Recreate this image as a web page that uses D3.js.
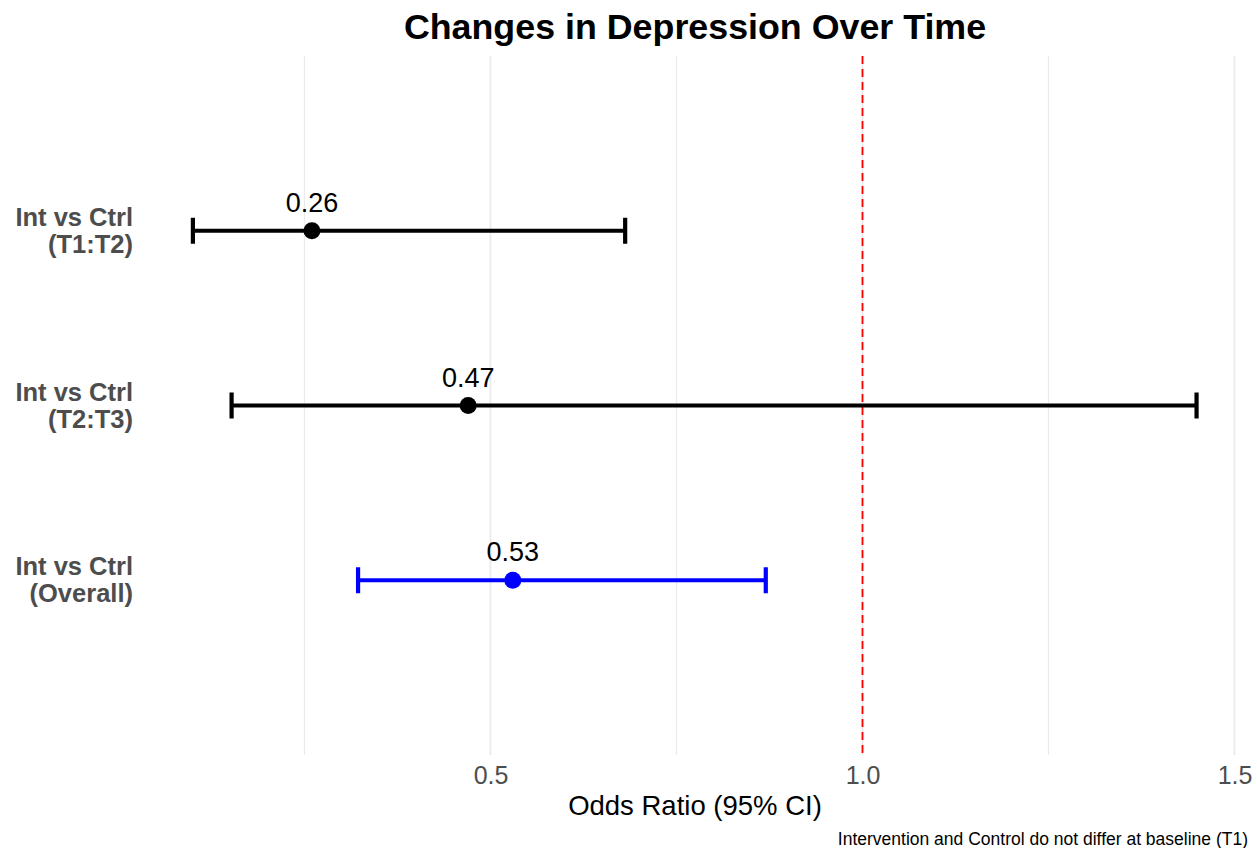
<!DOCTYPE html>
<html><head><meta charset="utf-8">
<script src="https://cdn.jsdelivr.net/npm/d3@7"></script>
<style>body{margin:0;background:#fff}svg{display:block}text{font-family:"Liberation Sans",Arial,sans-serif}</style>
</head><body>
<script>
const categories = ["Int vs Ctrl\n(T1:T2)", "Int vs Ctrl\n(T2:T3)", "Int vs Ctrl\n(Overall)"];
const estimates = [0.26, 0.47, 0.53];
const lowerCI = [0.10, 0.152, 0.322];
const upperCI = [0.681, 1.449, 0.870];
const colors = ["#000000", "#000000", "#0000ff"];
const majorTicks = [0.5, 1.0, 1.5];
const minorTicks = [0.25, 0.75, 1.25];
const refLine = 1.0;

const W = 1257, H = 848;
const svg = d3.select("body").append("svg").attr("width", W).attr("height", H);
const x = d3.scaleLinear().domain([0.5, 1.5]).range([490.5, 1234.5]);
const y = d3.scaleLinear().domain([0, 4]).range([56, 755]);

const g = svg.append("g");
g.selectAll(".minor").data(minorTicks).enter().append("line")
  .attr("x1", d => x(d)).attr("x2", d => x(d)).attr("y1", 56).attr("y2", 755)
  .attr("stroke", "#ebebeb").attr("stroke-width", 1.2);
g.selectAll(".major").data(majorTicks).enter().append("line")
  .attr("x1", d => x(d)).attr("x2", d => x(d)).attr("y1", 56).attr("y2", 755)
  .attr("stroke", "#ebebeb").attr("stroke-width", 1.8);

g.append("line").attr("x1", x(refLine)).attr("x2", x(refLine)).attr("y1", 56).attr("y2", 755)
  .attr("stroke", "#ff0000").attr("stroke-width", 1.8).attr("stroke-dasharray", "8,5");

const rows = categories.map((c, i) => ({c, est: estimates[i], lo: lowerCI[i], hi: upperCI[i], col: colors[i], i}));
const r = g.selectAll(".row").data(rows).enter().append("g");
r.append("line").attr("x1", d => x(d.lo)).attr("x2", d => x(d.hi))
  .attr("y1", d => y(d.i + 1)).attr("y2", d => y(d.i + 1))
  .attr("stroke", d => d.col).attr("stroke-width", 4.2);
r.append("line").attr("x1", d => x(d.lo)).attr("x2", d => x(d.lo))
  .attr("y1", d => y(d.i + 1) - 13).attr("y2", d => y(d.i + 1) + 13)
  .attr("stroke", d => d.col).attr("stroke-width", 4.2);
r.append("line").attr("x1", d => x(d.hi)).attr("x2", d => x(d.hi))
  .attr("y1", d => y(d.i + 1) - 13).attr("y2", d => y(d.i + 1) + 13)
  .attr("stroke", d => d.col).attr("stroke-width", 4.2);
r.append("circle").attr("cx", d => x(d.est)).attr("cy", d => y(d.i + 1)).attr("r", 8.5)
  .attr("fill", d => d.col);
r.append("text").attr("x", d => x(d.est)).attr("y", d => y(d.i + 1) - 19)
  .attr("text-anchor", "middle").attr("font-size", 27).attr("fill", "#000")
  .text(d => d.est.toFixed(2));

// y labels
r.each(function(d) {
  const lines = d.c.split("\n");
  const t = d3.select(this).append("text").attr("text-anchor", "end")
    .attr("font-size", 25.5).attr("font-weight", "bold").attr("fill", "#4d4d4d");
  lines.forEach((l, k) => t.append("tspan").attr("x", 133)
    .attr("y", y(d.i + 1) - 5 + k * 27).text(l));
});

// x axis labels
const xAxis = d3.axisBottom(x).tickValues(majorTicks).tickFormat(d3.format(".1f")).tickSize(0).tickPadding(0);
const ax = svg.append("g").call(xAxis);
ax.select(".domain").remove();
ax.selectAll("text").attr("font-size", 25).attr("fill", "#4d4d4d").attr("y", 784).attr("dy", null)
  .style("font-family", '"Liberation Sans",Arial,sans-serif');

svg.append("text").attr("x", 695).attr("y", 815).attr("text-anchor", "middle")
  .attr("font-size", 27.5).attr("fill", "#000").text("Odds Ratio (95% CI)");
svg.append("text").attr("x", 695).attr("y", 39).attr("text-anchor", "middle")
  .attr("font-size", 35.8).attr("font-weight", "bold").attr("fill", "#000").text("Changes in Depression Over Time");
svg.append("text").attr("x", 1248).attr("y", 845).attr("text-anchor", "end")
  .attr("font-size", 17.5).attr("fill", "#000").text("Intervention and Control do not differ at baseline (T1)");
</script>
</body></html>
